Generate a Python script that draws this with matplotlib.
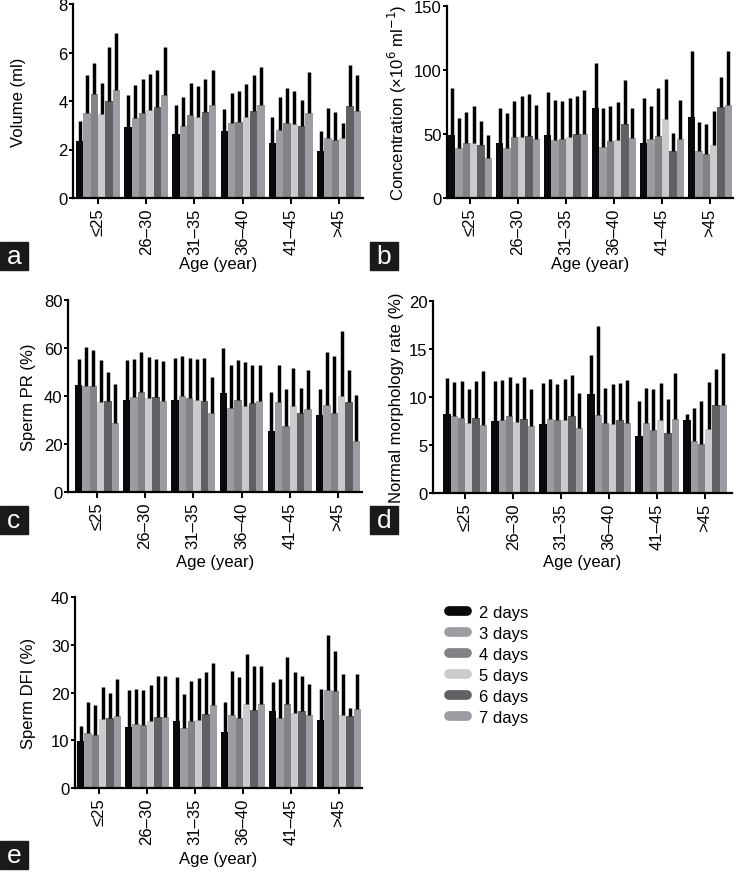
import matplotlib
matplotlib.use("Agg")
import matplotlib.pyplot as plt
from matplotlib.lines import Line2D
from matplotlib.patches import Rectangle
import numpy as np

plt.rcParams['font.family'] = ['Liberation Sans', 'DejaVu Sans']

age_groups = ["≤25", "26–30", "31–35", "36–40", "41–45", ">45"]
days = ["2 days", "3 days", "4 days", "5 days", "6 days", "7 days"]
colors = ["#0a0a0a", "#9c9ca2", "#838387", "#cbcbce", "#616165", "#9c9ca2"]

# Volume (ml): rows = days, cols = age groups
volume_mean = [
    [2.37, 2.92, 2.65, 2.76, 2.26, 1.93],
    [3.50, 3.31, 2.95, 3.09, 2.81, 2.47],
    [4.28, 3.50, 3.42, 3.12, 3.10, 2.39],
    [3.45, 3.61, 3.34, 3.32, 3.06, 2.47],
    [4.00, 3.75, 3.53, 3.59, 2.98, 3.78],
    [4.47, 4.23, 3.82, 3.83, 3.50, 3.57],
]
volume_sd = [
    [0.80, 1.34, 1.20, 0.90, 1.06, 0.83],
    [1.56, 1.37, 1.22, 1.25, 1.34, 1.24],
    [1.29, 1.42, 1.34, 1.28, 1.44, 1.17],
    [1.29, 1.51, 1.28, 1.37, 1.37, 0.62],
    [2.23, 1.51, 1.38, 1.50, 1.08, 1.72],
    [2.34, 2.00, 1.44, 1.59, 1.71, 1.52],
]

# Concentration (x10^6 /ml)
conc_mean = [
    [49.2, 42.7, 49.2, 70.0, 42.7, 63.5],
    [39.3, 39.3, 45.6, 40.0, 46.0, 37.0],
    [42.7, 47.9, 46.4, 44.3, 48.7, 34.1],
    [42.7, 47.9, 47.4, 45.0, 61.7, 41.4],
    [41.7, 48.7, 49.7, 57.6, 36.7, 70.8],
    [31.0, 46.0, 49.7, 46.6, 45.8, 72.7],
]
conc_sd = [
    [36.5, 27.3, 33.8, 35.5, 35.2, 51.1],
    [23.2, 27.4, 31.0, 30.3, 25.6, 22.4],
    [24.5, 27.6, 29.1, 27.3, 37.0, 23.7],
    [28.9, 31.8, 30.5, 29.7, 31.0, 26.6],
    [18.2, 32.8, 30.3, 34.8, 13.8, 23.7],
    [18.0, 26.7, 34.3, 23.7, 31.0, 41.9],
]

# Sperm PR (%)
pr_mean = [
    [44.5, 38.3, 38.3, 41.3, 25.3, 32.0],
    [44.2, 39.4, 39.8, 35.2, 37.7, 36.2],
    [44.2, 41.5, 39.0, 38.4, 27.5, 33.1],
    [37.7, 39.0, 38.4, 35.9, 35.8, 40.2],
    [38.0, 39.5, 38.1, 36.9, 33.1, 37.7],
    [28.7, 37.8, 33.1, 37.8, 34.6, 21.3],
]
pr_sd = [
    [10.9, 16.5, 17.6, 18.7, 16.2, 10.9],
    [16.3, 16.0, 16.7, 17.7, 15.4, 22.2],
    [15.1, 16.7, 17.0, 16.6, 15.4, 23.4],
    [17.3, 17.4, 17.0, 18.4, 15.7, 27.0],
    [12.0, 15.9, 17.8, 16.2, 10.2, 13.2],
    [16.3, 16.7, 15.0, 15.3, 16.3, 19.0],
]

# Normal morphology rate (%)
morph_mean = [
    [8.26, 7.50, 7.19, 10.35, 5.94, 7.57],
    [8.02, 7.57, 7.74, 8.09, 7.33, 5.38],
    [7.85, 7.99, 7.60, 7.33, 6.60, 5.14],
    [7.29, 7.40, 7.64, 7.19, 7.60, 6.63],
    [7.85, 7.67, 7.99, 7.60, 6.28, 9.13],
    [7.12, 6.94, 6.77, 7.33, 7.74, 9.20],
]
morph_sd = [
    [3.74, 4.20, 4.31, 3.99, 3.68, 0.63],
    [3.54, 4.23, 4.14, 9.27, 3.64, 3.51],
    [3.78, 4.06, 3.79, 3.61, 4.20, 4.41],
    [3.58, 4.10, 4.24, 4.16, 3.90, 4.93],
    [3.78, 4.38, 4.27, 3.82, 3.48, 3.75],
    [5.55, 3.93, 3.68, 4.41, 4.79, 5.42],
]

# Sperm DFI (%)
dfi_mean = [
    [9.8, 12.8, 14.0, 11.7, 16.2, 14.2],
    [11.5, 13.4, 12.6, 15.2, 14.7, 20.5],
    [11.0, 13.1, 14.0, 14.7, 17.6, 20.3],
    [14.4, 14.0, 14.2, 17.5, 15.7, 15.2],
    [14.7, 14.9, 15.4, 16.3, 16.1, 15.1],
    [15.0, 14.9, 17.3, 17.5, 15.2, 16.6],
]
dfi_sd = [
    [3.2, 7.8, 9.3, 6.3, 6.0, 6.6],
    [6.6, 7.4, 7.0, 9.3, 8.2, 11.6],
    [6.3, 7.5, 8.4, 8.6, 9.8, 8.3],
    [6.8, 7.5, 8.9, 10.6, 8.6, 8.7],
    [5.1, 8.6, 8.9, 9.3, 7.4, 1.7],
    [7.9, 8.5, 8.9, 8.1, 6.6, 7.3],
]

W, H = 736, 879
fig = plt.figure(figsize=(W / 100, H / 100), dpi=100)


def px_axes(left, right, top, bottom):
    return fig.add_axes([left / W, 1 - bottom / H, (right - left) / W, (bottom - top) / H])


def panel(box, mean, sd, ymax, ystep, ylabel, xlim, letter, letter_box,
          ylabel_x_px, xlabel_y_px):
    left, right, top, bottom = box
    ax = px_axes(*box)
    x = np.arange(len(age_groups))
    bw = 0.152
    for j in range(len(days)):
        xs = x + (j - 2.5) * bw
        m = np.array(mean[j])
        s = np.array(sd[j])
        ax.bar(xs, m, width=bw, color=colors[j], edgecolor='none', zorder=2)
        ax.errorbar(xs, m, yerr=[np.zeros_like(s), s], fmt='none', ecolor='black',
                    elinewidth=2.5, capsize=0, zorder=3)
    ax.set_ylim(0, ymax)
    ax.set_yticks(np.arange(0, ymax + 0.001, ystep))
    ax.set_xlim(*xlim)
    ax.set_xticks(x)
    ax.set_xticklabels(age_groups, rotation=90, fontsize=12)
    ax.tick_params(axis='y', labelsize=12, width=1.4, length=3, pad=1)
    ax.tick_params(axis='x', width=1.4, length=4, pad=3)
    for s_ in ['top', 'right']:
        ax.spines[s_].set_visible(False)
    for s_ in ['left', 'bottom']:
        ax.spines[s_].set_linewidth(1.6)
    # labels placed at pixel positions (center)
    fig.text(ylabel_x_px / W, 1 - (top + bottom) / 2 / H, ylabel, rotation=90,
             fontsize=12, ha='center', va='center')
    fig.text((left + right) / 2 / W, 1 - xlabel_y_px / H, "Age (year)",
             fontsize=12, ha='center', va='center')
    # letter box
    bl, bt, bs = letter_box
    fig.add_artist(Rectangle((bl / W, 1 - (bt + bs) / H), bs / W, bs / H,
                             transform=fig.transFigure, color='#1a1a1a', zorder=5))
    fig.text((bl + bs / 2) / W, 1 - (bt + bs / 2) / H, letter, color='white',
             fontsize=19, ha='center', va='center', zorder=6)
    return ax


panel((73, 363, 5, 199), volume_mean, volume_sd, 8, 2, "Volume (ml)",
      (-0.52, 5.5), "a", (0, 243, 28), 19, 265)
panel((447, 733, 7, 199), conc_mean, conc_sd, 150, 50,
      "Concentration (×10$^{6}$ ml$^{-1}$)", (-0.48, 5.48), "b", (370, 243, 28), 397, 265)
panel((68, 362, 301, 493), pr_mean, pr_sd, 80, 20, "Sperm PR (%)",
      (-0.6, 5.5), "c", (0, 507, 28), 28, 562)
panel((433, 732, 302, 494), morph_mean, morph_sd, 20, 5, "Normal morphology rate (%)",
      (-0.67, 5.56), "d", (370, 507, 28), 397, 562)
panel((75, 362, 598, 789), dfi_mean, dfi_sd, 40, 10, "Sperm DFI (%)",
      (-0.5, 5.48), "e", (0, 842, 28), 28, 860)

handles = [Line2D([], [], color=c, lw=7, solid_capstyle='round') for c in colors]
fig.legend(handles, days, loc='upper left', bbox_to_anchor=(449 / W, 1 - 606 / H),
           frameon=False, fontsize=12, handlelength=1.1, handletextpad=0.7,
           labelspacing=0.36, borderpad=0, borderaxespad=0)

fig.savefig("out.png", dpi=100)
